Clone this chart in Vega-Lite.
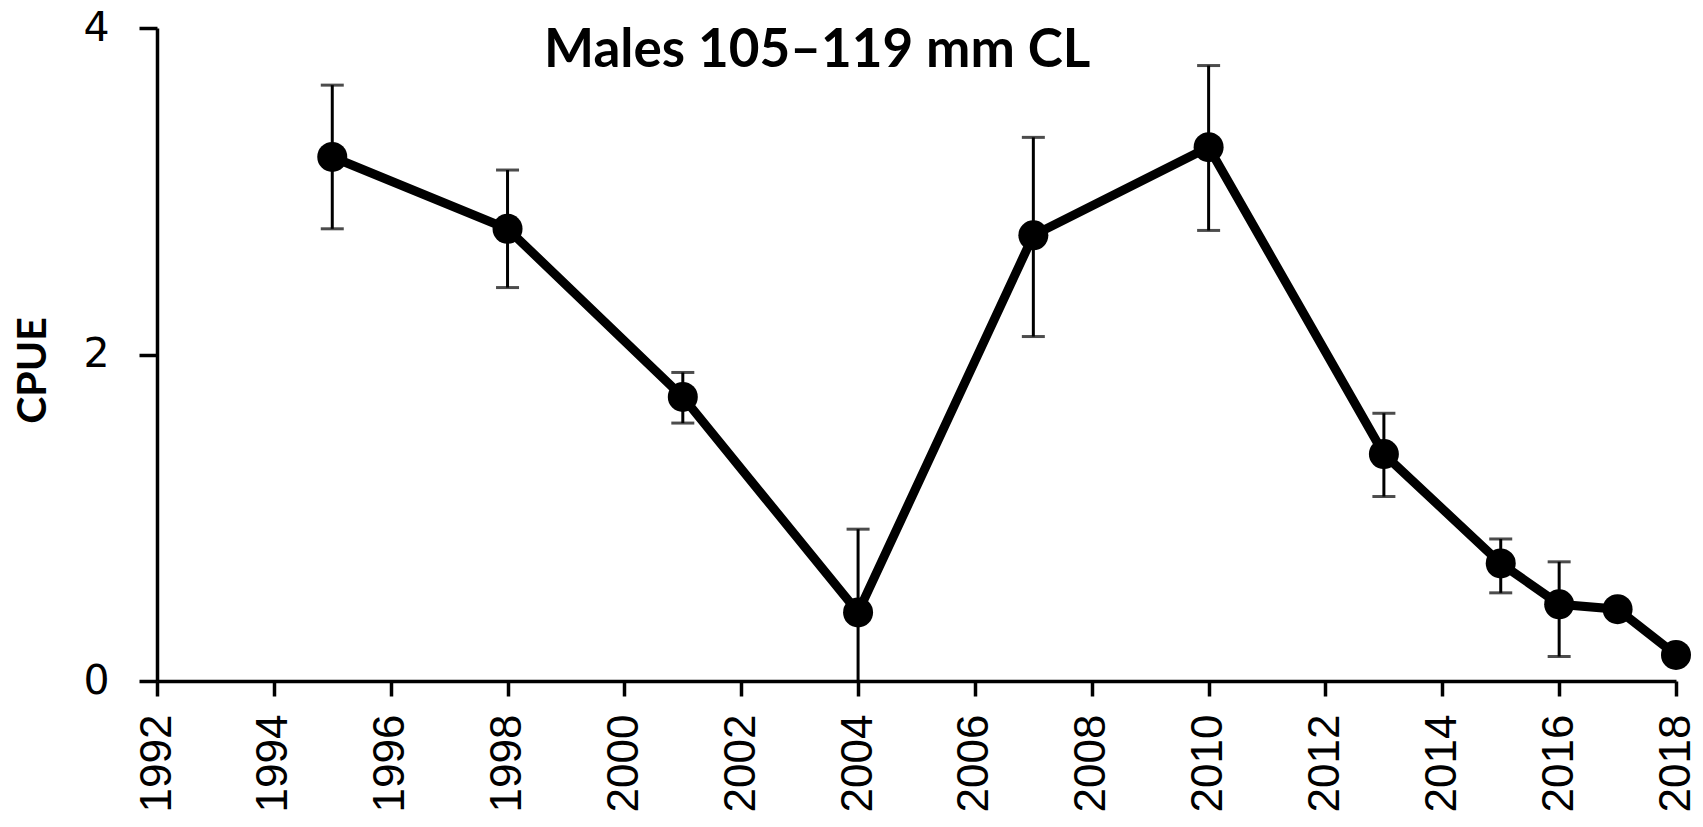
{
  "$schema": "https://vega.github.io/schema/vega-lite/v6.json",
  "autosize": {"type": "none"},
  "width": 1519,
  "height": 653,
  "padding": {"left": 157, "top": 28, "right": 27, "bottom": 146},
  "background": "white",
  "config": {
    "view": {"stroke": null},
    "axis": {
      "grid": false,
      "domainColor": "black",
      "domainWidth": 3.5,
      "tickColor": "black",
      "tickWidth": 3.5,
      "labelColor": "black",
      "labelFont": "DejaVu Sans",
      "labelFontSize": 41,
      "titleColor": "black"
    }
  },
  "datasets": {
    "cpue": [
      {"year": 1995, "cpue": 3.21, "lo": 2.77, "hi": 3.65},
      {"year": 1998, "cpue": 2.77, "lo": 2.41, "hi": 3.13},
      {"year": 2001, "cpue": 1.74, "lo": 1.58, "hi": 1.89},
      {"year": 2004, "cpue": 0.42, "lo": 0.0, "hi": 0.93},
      {"year": 2007, "cpue": 2.73, "lo": 2.11, "hi": 3.33},
      {"year": 2010, "cpue": 3.27, "lo": 2.76, "hi": 3.77},
      {"year": 2013, "cpue": 1.39, "lo": 1.13, "hi": 1.64},
      {"year": 2015, "cpue": 0.72, "lo": 0.54, "hi": 0.87},
      {"year": 2016, "cpue": 0.47, "lo": 0.15, "hi": 0.73},
      {"year": 2017, "cpue": 0.44, "lo": null, "hi": null},
      {"year": 2018, "cpue": 0.16, "lo": null, "hi": null}
    ],
    "title": [
      {"label": "Males 105–119 mm CL", "year": 2003.3, "cpue": 3.76}
    ]
  },
  "data": {"name": "cpue"},
  "encoding": {
    "x": {
      "field": "year",
      "type": "quantitative",
      "scale": {"domain": [1992, 2018], "nice": false, "zero": false},
      "axis": {
        "title": null,
        "values": [1992, 1994, 1996, 1998, 2000, 2002, 2004, 2006, 2008, 2010, 2012, 2014, 2016, 2018],
        "format": "d",
        "labelAngle": -90,
        "labelFont": "Liberation Sans",
        "labelFontSize": 44,
        "tickSize": 15,
        "labelPadding": 18,
        "labelBound": false,
        "labelOverlap": false,
        "labelFlush": false
      }
    }
  },
  "layer": [
    {
      "transform": [{"filter": "datum.hi != null"}],
      "mark": {"type": "rule", "color": "black", "strokeWidth": 3},
      "encoding": {
        "y": {"field": "lo", "type": "quantitative"},
        "y2": {"field": "hi"}
      }
    },
    {
      "transform": [{"filter": "datum.hi != null"}],
      "mark": {"type": "tick", "color": "black", "orient": "horizontal", "size": 23, "thickness": 3},
      "encoding": {
        "y": {"field": "hi", "type": "quantitative"}
      }
    },
    {
      "transform": [{"filter": "datum.hi != null && datum.lo > 0"}],
      "mark": {"type": "tick", "color": "black", "orient": "horizontal", "size": 23, "thickness": 3},
      "encoding": {
        "y": {"field": "lo", "type": "quantitative"}
      }
    },
    {
      "mark": {"type": "line", "color": "black", "strokeWidth": 9},
      "encoding": {
        "y": {
          "field": "cpue",
          "type": "quantitative",
          "scale": {"domain": [0, 4], "nice": false},
          "axis": {
            "values": [0, 2, 4],
            "format": "d",
            "tickSize": 18,
            "labelPadding": 30,
            "title": "CPUE",
            "titleFont": "Lato",
            "titleFontSize": 41,
            "titleFontWeight": "bold",
            "titleAngle": 270,
            "titleX": -103,
            "titleY": 342,
            "titleAlign": "center",
            "titleBaseline": "bottom"
          }
        }
      }
    },
    {
      "mark": {"type": "point", "filled": true, "color": "black", "opacity": 1, "size": 900},
      "encoding": {
        "y": {"field": "cpue", "type": "quantitative"}
      }
    },
    {
      "data": {"name": "title"},
      "mark": {"type": "text", "font": "Lato", "fontSize": 53, "fontWeight": "bold", "color": "black", "align": "center", "baseline": "alphabetic"},
      "encoding": {
        "y": {"field": "cpue", "type": "quantitative"},
        "text": {"field": "label"}
      }
    }
  ]
}
